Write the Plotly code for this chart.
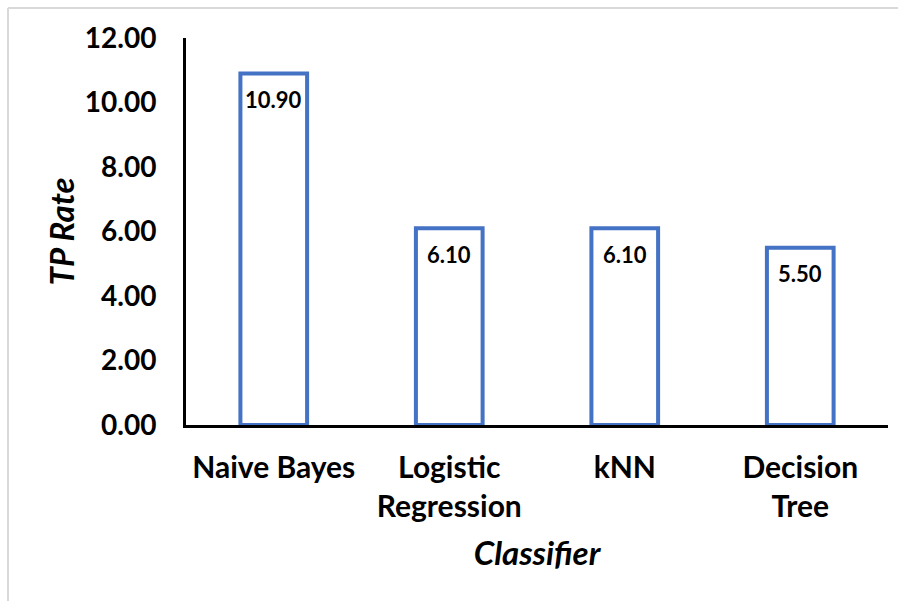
import plotly.graph_objects as go

categories = ["Naive Bayes", "Logistic<br>Regression", "kNN", "Decision<br>Tree"]
tp_rate = [10.90, 6.10, 6.10, 5.50]
y_ticks = [0, 2, 4, 6, 8, 10, 12]

FONT = "Lato"
W, H = 898, 601
L, R, T, B = 186, 10, 38, 176
pw, ph = W - L - R, H - T - B

fig = go.Figure(go.Bar(
    x=categories, y=tp_rate,
    marker=dict(color="white", line=dict(color="#4472C4", width=4)),
    width=0.38,
))

for c, v in zip(categories, tp_rate):
    fig.add_annotation(x=c, y=v, text=f"{v:.2f}", showarrow=False, yshift=-26,
                       font=dict(family=FONT, size=22, color="black", weight="bold"))

fig.update_layout(
    width=W, height=H,
    margin=dict(l=L, r=R, t=T, b=B),
    paper_bgcolor="white", plot_bgcolor="white",
    showlegend=False,
    xaxis=dict(
        showline=True, linecolor="black", linewidth=3,
        tickfont=dict(family=FONT, size=30, color="black", weight="bold"),
        ticks="", ticklabelstandoff=14,
        title=dict(text="<i>Classifier</i>", font=dict(family=FONT, size=33, color="black", weight="bold"), standoff=20),
    ),
    yaxis=dict(
        range=[0, 12], tickvals=y_ticks, ticktext=[f"{v:.2f}" for v in y_ticks],
        showline=True, linecolor="black", linewidth=3, showgrid=False, zeroline=False,
        tickfont=dict(family=FONT, size=28, color="black", weight="bold"),
        ticks="", ticklabelstandoff=21,
        title=dict(text="<i>TP Rate</i>", font=dict(family=FONT, size=33, color="black", weight="bold"), standoff=1),
    ),
    shapes=[
        dict(type="line", xref="paper", yref="paper",
             x0=(8 - L) / pw, x1=(W - L) / pw, y0=1 + (T - 8) / ph, y1=1 + (T - 8) / ph,
             line=dict(color="#d9d9d9", width=2)),
        dict(type="line", xref="paper", yref="paper",
             x0=(8 - L) / pw, x1=(8 - L) / pw, y0=1 + (T - 8) / ph, y1=-(B) / ph,
             line=dict(color="#d9d9d9", width=2)),
    ],
)

fig.write_html("out.html")
